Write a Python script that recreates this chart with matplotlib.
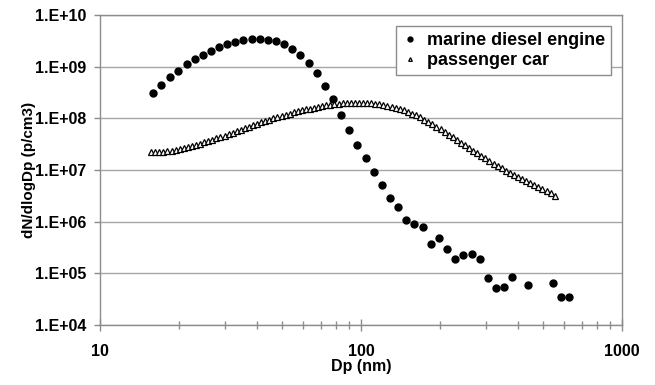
import numpy as np
import matplotlib
matplotlib.use("Agg")
import matplotlib.pyplot as plt
from matplotlib.ticker import FixedLocator, FuncFormatter, LogLocator, NullFormatter

# marine diesel engine (dots)
marine_dp = [16.0, 17.2, 18.5, 19.9, 21.5, 23.1, 24.8, 26.6, 28.6, 30.7, 32.9, 35.4,
             38.1, 40.9, 44.0, 47.2, 50.7, 54.5, 58.5, 63.0, 67.7, 72.8, 78.1, 83.8,
             90.2, 96.8, 104.2, 112.1, 120.4, 129.2, 138.7, 149.2, 160.0, 172.3, 185.4,
             199.0, 213.6, 229.8, 246.6, 265.6, 285.0, 306.6, 329.0, 353.0, 379.0,
             437.5, 544.0, 584.0, 627.0]
marine_n = [3.14e8, 4.43e8, 6.24e8, 8.37e8, 1.11e9, 1.39e9, 1.71e9, 2.04e9, 2.37e9,
            2.71e9, 3.0e9, 3.24e9, 3.43e9, 3.43e9, 3.28e9, 3.10e9, 2.71e9, 2.23e9,
            1.68e9, 1.18e9, 7.55e8, 4.29e8, 2.34e8, 1.18e8, 5.97e7, 3.02e7, 1.74e7,
            9.1e6, 5.1e6, 2.89e6, 1.93e6, 1.08e6, 9.06e5, 7.93e5, 3.67e5, 4.92e5,
            2.94e5, 1.91e5, 2.28e5, 2.42e5, 1.93e5, 8.07e4, 5.17e4, 5.41e4, 8.45e4,
            6.0e4, 6.55e4, 3.47e4, 3.51e4]

# passenger car (triangles)
car_dp = [15.7, 16.3, 16.8, 17.5, 18.1, 18.8, 19.5, 20.2, 20.9, 21.7, 22.5, 23.3,
          24.1, 25.0, 25.9, 26.9, 27.9, 28.9, 30.0, 31.1, 32.2, 33.4, 34.6, 35.9,
          37.2, 38.5, 40.0, 41.4, 42.9, 44.5, 46.1, 47.8, 49.6, 51.4, 53.3, 55.2,
          57.3, 59.4, 61.5, 63.8, 66.1, 68.5, 71.0, 73.7, 76.4, 79.1, 82.0, 85.1,
          88.2, 91.4, 94.7, 98.2, 101.8, 105.5, 109.4, 113.4, 117.6, 121.9, 126.3,
          131.0, 135.8, 140.7, 145.9, 151.2, 156.8, 162.5, 168.5, 174.7, 181.1,
          187.7, 194.6, 201.7, 209.1, 216.7, 224.7, 232.9, 241.4, 250.3, 259.5,
          269.0, 278.8, 289.0, 299.6, 310.6, 322.0, 333.8, 346.0, 358.7, 371.8,
          385.4, 399.5, 414.2, 429.4, 445.1, 461.4, 478.3, 495.8, 514.0, 532.8, 552.3]
car_n = [2.21e7, 2.22e7, 2.24e7, 2.27e7, 2.32e7, 2.37e7, 2.45e7, 2.53e7, 2.64e7,
         2.75e7, 2.89e7, 3.06e7, 3.24e7, 3.43e7, 3.62e7, 3.85e7, 4.09e7, 4.35e7,
         4.65e7, 4.95e7, 5.30e7, 5.66e7, 6.04e7, 6.44e7, 6.89e7, 7.36e7, 7.85e7,
         8.38e7, 8.89e7, 9.46e7, 1.00e8, 1.06e8, 1.12e8, 1.18e8, 1.24e8, 1.30e8,
         1.36e8, 1.43e8, 1.49e8, 1.55e8, 1.61e8, 1.67e8, 1.73e8, 1.78e8, 1.83e8,
         1.87e8, 1.91e8, 1.95e8, 1.97e8, 1.99e8, 2.00e8, 2.00e8, 1.99e8, 1.97e8,
         1.95e8, 1.90e8, 1.86e8, 1.79e8, 1.73e8, 1.66e8, 1.58e8, 1.51e8, 1.42e8,
         1.33e8, 1.23e8, 1.14e8, 1.04e8, 9.40e7, 8.53e7, 7.66e7, 6.84e7, 6.10e7,
         5.43e7, 4.83e7, 4.29e7, 3.81e7, 3.39e7, 3.02e7, 2.69e7, 2.38e7, 2.12e7,
         1.88e7, 1.68e7, 1.49e7, 1.33e7, 1.19e7, 1.07e7, 9.64e6, 8.69e6, 7.91e6,
         7.19e6, 6.56e6, 6.01e6, 5.50e6, 5.05e6, 4.65e6, 4.27e6, 3.93e6, 3.55e6, 3.16e6]

x_ticks = [10, 100, 1000]
y_ticks = [1e4, 1e5, 1e6, 1e7, 1e8, 1e9, 1e10]

plt.rcParams['font.family'] = ['Liberation Sans', 'DejaVu Sans']
plt.rcParams['font.weight'] = 'bold'

fig = plt.figure(figsize=(6.55, 3.85), dpi=100)
ax = fig.add_axes([0.1527, 0.1558, 0.7969, 0.8052])

ax.plot(marine_dp, marine_n, linestyle='none', marker='o', markersize=5,
        color='black', label='marine diesel engine', zorder=3)
ax.plot(car_dp, car_n, linestyle='none', marker='^', markersize=3.8,
        markerfacecolor='white', markeredgecolor='black', markeredgewidth=0.9,
        label='passenger car', zorder=4)

ax.set_xscale('log')
ax.set_yscale('log')
ax.set_xlim(10, 1000)
ax.set_ylim(1e4, 1e10)

ax.xaxis.set_major_locator(FixedLocator(x_ticks))
ax.xaxis.set_major_formatter(FuncFormatter(lambda v, p: f"{v:g}"))
ax.xaxis.set_minor_locator(LogLocator(base=10, subs=np.arange(2, 10)))
ax.xaxis.set_minor_formatter(NullFormatter())
ax.yaxis.set_major_locator(FixedLocator(y_ticks))
ax.yaxis.set_major_formatter(FuncFormatter(
    lambda v, p: "1.E+%02d" % int(round(np.log10(v)))))
ax.yaxis.set_minor_locator(FixedLocator([]))

gray = '#8c8c8c'
ax.grid(True, axis='y', which='major', color='#a6a6a6', linewidth=1)
ax.set_axisbelow(True)
for s in ax.spines.values():
    s.set_color(gray)
    s.set_linewidth(1)

ax.tick_params(axis='x', which='major', direction='inout', length=8, width=1,
               color=gray, labelsize=11.5, pad=10)
ax.tick_params(axis='x', which='minor', direction='inout', length=6, width=1,
               color=gray)
ax.tick_params(axis='y', which='major', direction='out', length=4, width=1,
               color=gray, labelsize=11.5, pad=6)

ax.set_xlabel('Dp (nm)', fontsize=11.5, fontweight='bold', labelpad=0)
ax.set_ylabel('dN/dlogDp (p/cm3)', fontsize=11, fontweight='bold')
ax.yaxis.set_label_coords(-0.123, 0.5)

leg = ax.legend(loc='upper right', bbox_to_anchor=(0.979, 0.9645), fontsize=13,
                frameon=True, fancybox=False, edgecolor=gray, framealpha=1,
                markerscale=0.7, handlelength=0.9, handletextpad=0.45,
                borderpad=0.35, labelspacing=0.15, borderaxespad=0)
leg.get_frame().set_linewidth(1)
for t in leg.get_texts():
    t.set_fontweight('bold')

fig.savefig('out.png', dpi=100)
